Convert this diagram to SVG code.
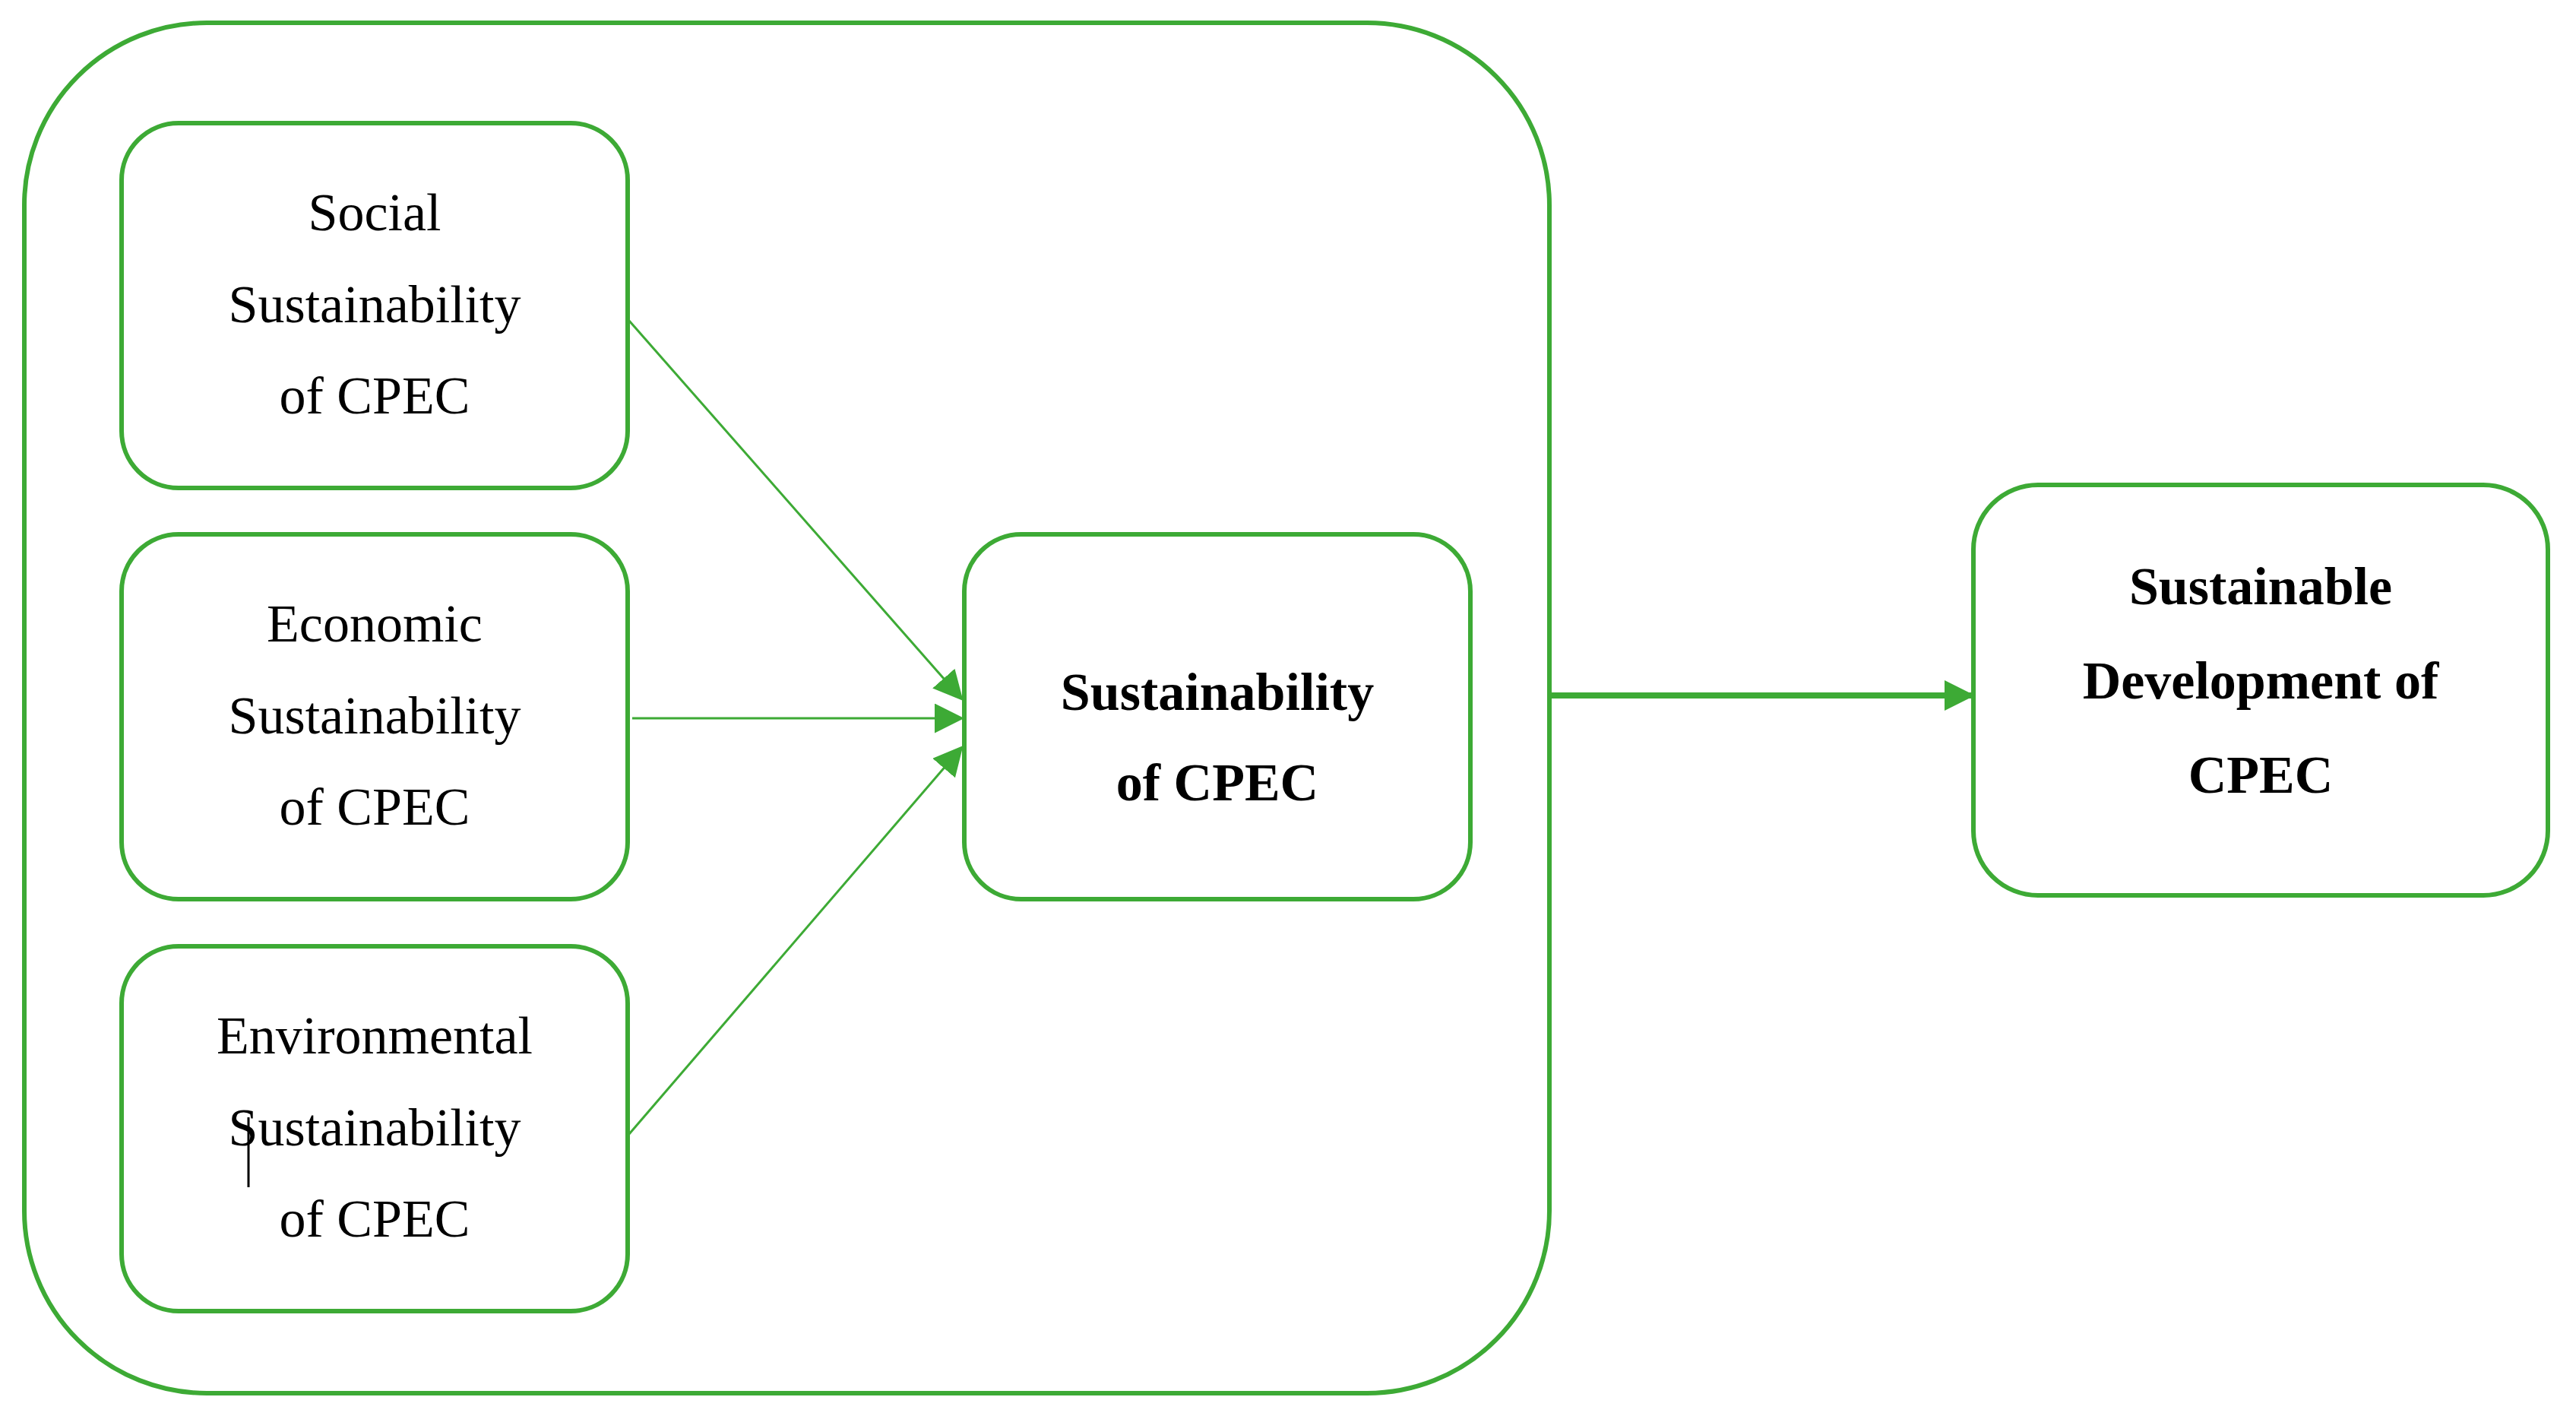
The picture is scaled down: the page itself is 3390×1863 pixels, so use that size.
<svg xmlns="http://www.w3.org/2000/svg" width="3390" height="1863" viewBox="0 0 3390 1863">
<style>
.box{fill:#fff;stroke:#3daa35;stroke-width:6}
.t{font-family:"Liberation Serif",serif;font-size:70px;fill:#000;text-anchor:middle}
.b{font-weight:bold}
.c{stroke:#3daa35;fill:none}
</style>
<defs>
<marker id="a" viewBox="0 0 10 10" refX="9" refY="5" markerWidth="5" markerHeight="5" orient="auto" markerUnits="strokeWidth"><path d="M0,0L10,5L0,10z" fill="#3daa35"/></marker>
<marker id="a2" viewBox="0 0 10 10" refX="9" refY="5" markerWidth="13" markerHeight="13" orient="auto" markerUnits="strokeWidth"><path d="M0,0L10,5L0,10z" fill="#3daa35"/></marker>
</defs>
<rect width="3390" height="1863" fill="#fff"/>
<g id="outer"><rect class="box" x="32" y="30" width="2007" height="1803" rx="240"/></g>
<g id="social"><rect class="box" x="160" y="162" width="666" height="480" rx="75"/>
<text class="t" x="493" y="303">Social</text><text class="t" x="493" y="424">Sustainability</text><text class="t" x="493" y="544">of CPEC</text></g>
<g id="economic"><rect class="box" x="160" y="703" width="666" height="480" rx="75"/>
<text class="t" x="493" y="844">Economic</text><text class="t" x="493" y="965">Sustainability</text><text class="t" x="493" y="1085">of CPEC</text></g>
<g id="environmental"><rect class="box" x="160" y="1245" width="666" height="480" rx="75"/>
<text class="t" x="493" y="1386">Environmental</text><text class="t" x="493" y="1507">Sustainability</text><text class="t" x="493" y="1627">of CPEC</text>
<line x1="327" y1="1470" x2="327" y2="1562" stroke="#000" stroke-width="3"/></g>
<g id="center"><rect class="box" x="1269" y="703" width="666" height="480" rx="75"/>
<text class="t b" x="1602" y="934">Sustainability</text><text class="t b" x="1602" y="1053">of CPEC</text></g>
<g id="right"><rect class="box" x="2597" y="638" width="756" height="540" rx="85"/>
<text class="t b" x="2975" y="795">Sustainable</text><text class="t b" x="2975" y="919">Development of</text><text class="t b" x="2975" y="1043">CPEC</text></g>
<g id="connectors">
<line class="c" stroke-width="3" x1="828" y1="422" x2="1265" y2="919" marker-end="url(#a2)"/>
<line class="c" stroke-width="3" x1="832" y1="945" x2="1265" y2="945" marker-end="url(#a2)"/>
<line class="c" stroke-width="3" x1="828" y1="1492" x2="1265" y2="984" marker-end="url(#a2)"/>
<line class="c" stroke-width="8" x1="2039" y1="915" x2="2595" y2="915" marker-end="url(#a)"/>
</g>
</svg>
